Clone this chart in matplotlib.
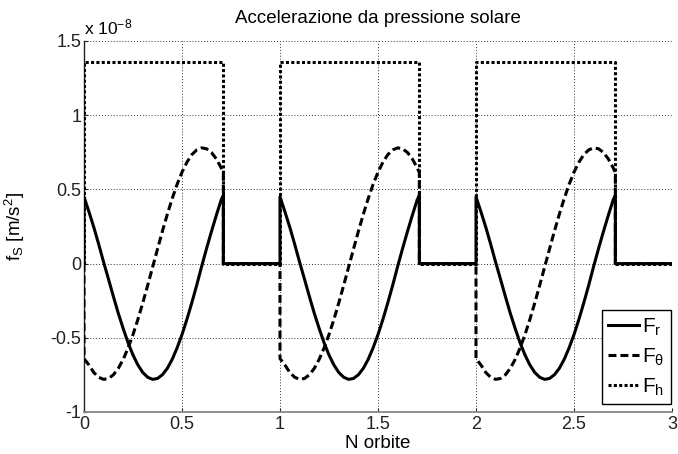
import numpy as np
import matplotlib
matplotlib.use("Agg")
import matplotlib.pyplot as plt

plt.rcParams['font.family'] = ['Liberation Sans', 'DejaVu Sans']
plt.rcParams['mathtext.fontset'] = 'custom'
plt.rcParams['mathtext.rm'] = 'Liberation Sans'
plt.rcParams['mathtext.it'] = 'Liberation Sans'
plt.rcParams['axes.unicode_minus'] = False

# ---- data (units of 1e-8 m/s^2), one orbit, sunlit arc ----
orbit_x = [0.000, 0.025, 0.050, 0.075, 0.100, 0.125, 0.150, 0.175, 0.200, 0.225,
           0.250, 0.275, 0.300, 0.325, 0.350, 0.375, 0.400, 0.425, 0.450, 0.475,
           0.500, 0.525, 0.550, 0.575, 0.600, 0.625, 0.650, 0.675, 0.700, 0.711]
fr_orbit = [0.45, 0.35, 0.245, 0.13, 0.01, -0.105, -0.222, -0.335, -0.438, -0.534,
            -0.616, -0.683, -0.734, -0.766, -0.780, -0.774, -0.749, -0.706, -0.645, -0.568,
            -0.478, -0.376, -0.264, -0.146, -0.02, 0.10, 0.215, 0.325, 0.43, 0.46]
ft_orbit = [-0.64, -0.683, -0.734, -0.766, -0.780, -0.774, -0.749, -0.706, -0.645, -0.568,
            -0.478, -0.376, -0.264, -0.146, -0.024, 0.098, 0.218, 0.332, 0.438, 0.534,
            0.616, 0.683, 0.734, 0.766, 0.780, 0.774, 0.749, 0.706, 0.645, 0.613]
fh_orbit = [1.36] * len(orbit_x)
eclipse_start = 0.711
eclipse_end = 1.0
n_orbits = 3
scale_label = "x 10$^{-8}$"

xticks = [0, 0.5, 1, 1.5, 2, 2.5, 3]
xticklabels = ["0", "0.5", "1", "1.5", "2", "2.5", "3"]
yticks = [-1, -0.5, 0, 0.5, 1, 1.5]
yticklabels = ["-1", "-0.5", "0", "0.5", "1", "1.5"]

# ---- build full series ----
def build(vals):
    xs, ys = [], []
    for k in range(n_orbits):
        xs.append(k); ys.append(0.0)
        xs.extend([k + v for v in orbit_x]); ys.extend(vals)
        xs.extend([k + eclipse_start, k + eclipse_end]); ys.extend([0.0, 0.0])
    return np.array(xs), np.array(ys)

x_r, y_r = build(fr_orbit)
x_t, y_t = build(ft_orbit)
x_h, y_h = build(fh_orbit)

W, H = 678, 454
fig = plt.figure(figsize=(W / 100, H / 100), dpi=100)
L, R, T, B = 84, 672, 41, 412
ax = fig.add_axes([L / W, 1 - B / H, (R - L) / W, (B - T) / H])

lw = 2.2
ax.plot(x_h, y_h, color='black', lw=lw, linestyle=(0, (1, 0.75)), label='F$_h$', zorder=3)
ax.plot(x_t, y_t, color='black', lw=lw, linestyle=(0, (2.6, 1.3)), label=r'F$_\theta$', zorder=4)
ax.plot(x_r, y_r, color='black', lw=lw, linestyle='-', label='F$_r$', zorder=5)

ax.set_xlim(0, 3)
ax.set_ylim(-1, 1.5)
ax.set_xticks(xticks)
ax.set_xticklabels(xticklabels)
ax.set_yticks(yticks)
ax.set_yticklabels(yticklabels)
ax.tick_params(direction='in', length=3, labelsize=13, colors='#222222')
ax.tick_params(axis='y', pad=2)
ax.tick_params(axis='x', pad=3)

ax.grid(True, color='#333333', linestyle=(0, (1, 2)), linewidth=0.7)
for s in ['top', 'right']:
    ax.spines[s].set_visible(False)
ax.spines['left'].set_color('#222222')
ax.spines['bottom'].set_color('#888888')
ax.spines['left'].set_linewidth(1.0)
ax.spines['bottom'].set_linewidth(1.3)

ax.set_title('Accelerazione da pressione solare', fontsize=13.5, pad=13)
ax.set_xlabel('N orbite', fontsize=13.5, labelpad=1)
ax.set_ylabel('f$_S$ [m/s$^2$]', fontsize=13.5)
ax.yaxis.set_label_coords((27 - L) / (R - L), 0.5)
ax.text(0.0, 1.01, scale_label, transform=ax.transAxes, fontsize=12.5,
        ha='left', va='bottom')

handles, labels = ax.get_legend_handles_labels()
order = [2, 1, 0]
leg = ax.legend([handles[i] for i in order], [labels[i] for i in order],
                loc='lower right', bbox_to_anchor=(671 / W, 1 - 404 / H),
                bbox_transform=fig.transFigure, borderaxespad=0,
                fontsize=15, fancybox=False, framealpha=1,
                edgecolor='black', handlelength=1.5, handletextpad=0.15,
                borderpad=0.3, labelspacing=0.42)
leg.get_frame().set_linewidth(1.0)

fig.savefig('out.png', dpi=100, facecolor='white')
